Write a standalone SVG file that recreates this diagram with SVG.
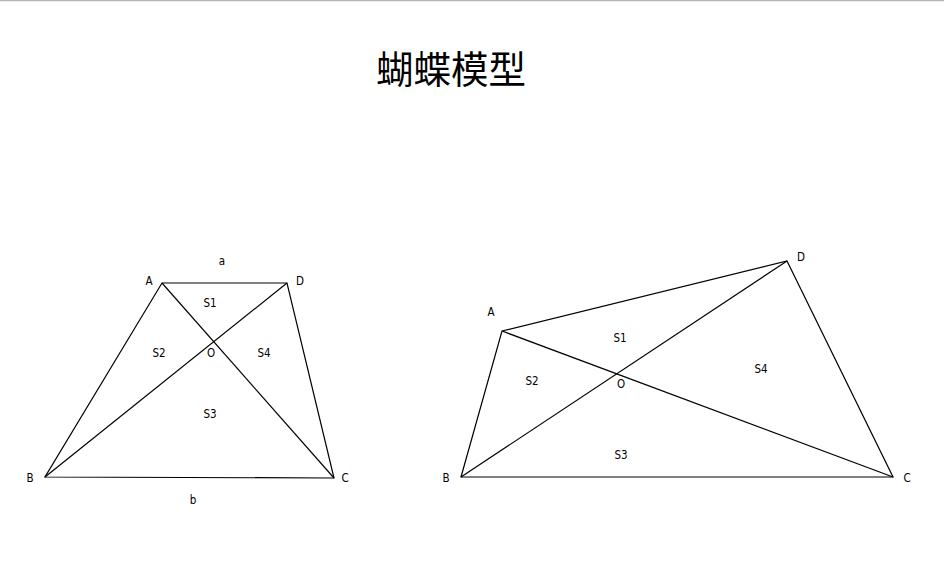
<svg xmlns="http://www.w3.org/2000/svg" width="944" height="561" viewBox="0 0 944 561">
<style>
.e{stroke:#000;stroke-width:1.2;fill:none}
.t{font-family:"DejaVu Sans Condensed","DejaVu Sans",sans-serif;font-stretch:condensed;font-size:11.5px;fill:#000;text-anchor:middle}
.h{font-family:"Noto Sans CJK SC",sans-serif;font-size:37.5px;fill:#000;text-anchor:middle}
</style>
<rect x="0" y="0" width="944" height="561" fill="#fff"/>
<line x1="0" y1="0.5" x2="944" y2="0.5" stroke="#b4b4b4" stroke-width="1.5"/>
<text class="h" x="451" y="83">蝴蝶模型</text>
<g id="connectors">
<g id="left-edges">
<polygon class="e" points="162,283 287,283 334,478 45,477"/>
<line class="e" x1="162" y1="283" x2="334" y2="478"/>
<line class="e" x1="287" y1="283" x2="45" y2="477"/>
</g>
<g id="right-edges">
<polygon class="e" points="502,331 787,261 893,477 461,477"/>
<line class="e" x1="502" y1="331" x2="893" y2="477"/>
<line class="e" x1="787" y1="261" x2="461" y2="477"/>
</g>
</g>
<g id="left-labels">
<g id="L-A"><text class="t" x="149" y="285">A</text></g>
<g id="L-D"><text class="t" x="300" y="285">D</text></g>
<g id="L-B"><text class="t" x="30" y="482">B</text></g>
<g id="L-C"><text class="t" x="345" y="482">C</text></g>
<g id="L-a"><text class="t" x="222" y="265">a</text></g>
<g id="L-b"><text class="t" x="193" y="504">b</text></g>
<g id="L-S1"><text class="t" x="210" y="307">S1</text></g>
<g id="L-S2"><text class="t" x="159" y="357">S2</text></g>
<g id="L-O"><text class="t" x="211" y="357">O</text></g>
<g id="L-S4"><text class="t" x="264" y="357">S4</text></g>
<g id="L-S3"><text class="t" x="210" y="418">S3</text></g>
</g>
<g id="right-labels">
<g id="R-A"><text class="t" x="491" y="316">A</text></g>
<g id="R-D"><text class="t" x="801" y="261">D</text></g>
<g id="R-B"><text class="t" x="446" y="482">B</text></g>
<g id="R-C"><text class="t" x="907" y="482">C</text></g>
<g id="R-S1"><text class="t" x="620" y="342">S1</text></g>
<g id="R-S2"><text class="t" x="532" y="385">S2</text></g>
<g id="R-O"><text class="t" x="621" y="388">O</text></g>
<g id="R-S4"><text class="t" x="761" y="373">S4</text></g>
<g id="R-S3"><text class="t" x="621" y="459">S3</text></g>
</g>
</svg>
